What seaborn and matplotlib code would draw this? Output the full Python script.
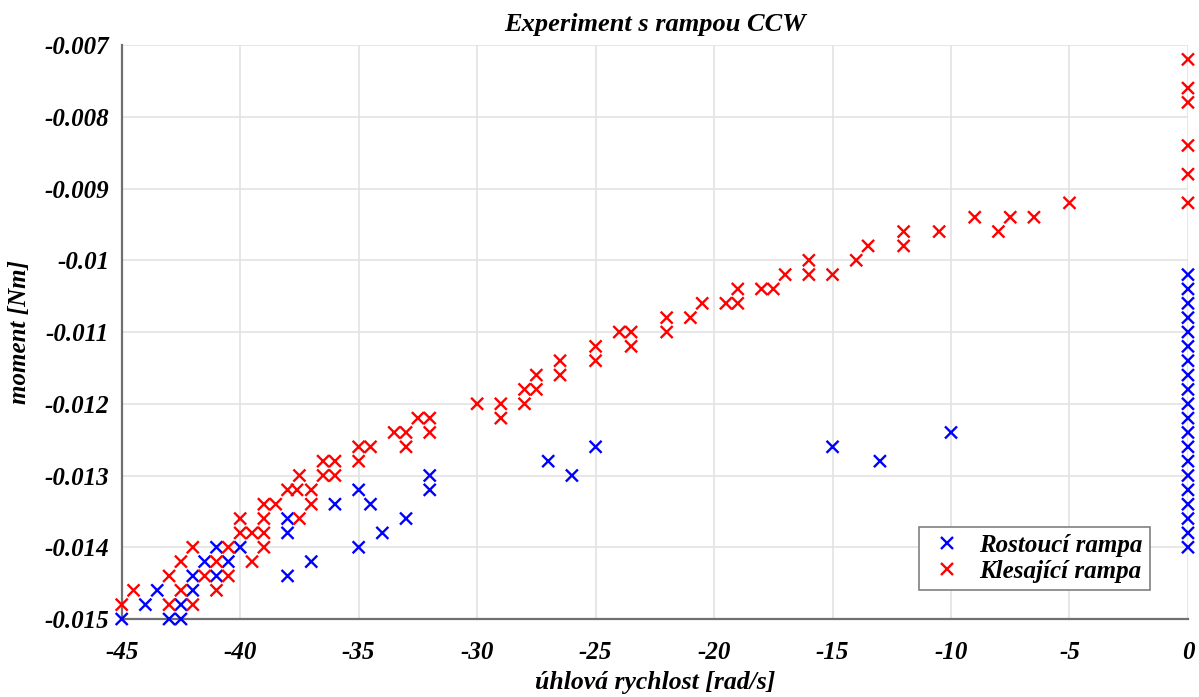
import numpy as np
import pandas as pd
import matplotlib
matplotlib.use("Agg")
import matplotlib.pyplot as plt
import seaborn as sns

# ---- data ----
rost_x = [-45, -43, -42.5, -44, -42.5, -43.5, -42, -42, -41, -38,
          -41.5, -40.5, -37, -41, -40, -35, -38, -34, -38, -33,
          -36, -34.5, -35, -32, -32, -26, -27, -13, -25, -15, -10]
rost_y = [-0.015, -0.015, -0.015, -0.0148, -0.0148, -0.0146, -0.0146, -0.0144, -0.0144, -0.0144,
          -0.0142, -0.0142, -0.0142, -0.014, -0.014, -0.014, -0.0138, -0.0138, -0.0136, -0.0136,
          -0.0134, -0.0134, -0.0132, -0.0132, -0.013, -0.013, -0.0128, -0.0128, -0.0126, -0.0126, -0.0124]
rost0_y = [-0.0102, -0.0104, -0.0106, -0.0108, -0.011, -0.0112, -0.0114, -0.0116, -0.0118, -0.012,
           -0.0122, -0.0124, -0.0126, -0.0128, -0.013, -0.0132, -0.0134, -0.0136, -0.0138, -0.014]
rost_x = rost_x + [0] * len(rost0_y)
rost_y = rost_y + rost0_y

kles_x = [-45, -43, -42, -44.5, -42.5, -41, -43, -41.5, -40.5,
          -42.5, -41, -39.5, -42, -40.5, -39, -40, -39.5, -39,
          -40, -39, -37.5, -39, -38.5, -37, -38, -37.6, -37,
          -37.5, -36.5, -36, -36.5, -36, -35, -35, -34.5, -33,
          -33.5, -33, -32, -32.5, -32, -29, -30, -29, -28,
          -28, -27.5, -27.5, -26.5, -26.5, -25, -25, -23.5,
          -24, -23.5, -22, -22, -21, -20.5, -19.5, -19,
          -19, -18, -17.5, -17, -16, -15, -16, -14,
          -13.5, -12, -12, -10.5, -8, -9, -7.5, -6.5, -5,
          0, 0, 0, 0, 0, 0]
kles_y = [-0.0148, -0.0148, -0.0148, -0.0146, -0.0146, -0.0146, -0.0144, -0.0144, -0.0144,
          -0.0142, -0.0142, -0.0142, -0.014, -0.014, -0.014, -0.0138, -0.0138, -0.0138,
          -0.0136, -0.0136, -0.0136, -0.0134, -0.0134, -0.0134, -0.0132, -0.0132, -0.0132,
          -0.013, -0.013, -0.013, -0.0128, -0.0128, -0.0128, -0.0126, -0.0126, -0.0126,
          -0.0124, -0.0124, -0.0124, -0.0122, -0.0122, -0.0122, -0.012, -0.012, -0.012,
          -0.0118, -0.0118, -0.0116, -0.0116, -0.0114, -0.0114, -0.0112, -0.0112,
          -0.011, -0.011, -0.011, -0.0108, -0.0108, -0.0106, -0.0106, -0.0106,
          -0.0104, -0.0104, -0.0104, -0.0102, -0.0102, -0.0102, -0.010, -0.010,
          -0.0098, -0.0098, -0.0096, -0.0096, -0.0096, -0.0094, -0.0094, -0.0094, -0.0092,
          -0.0072, -0.0076, -0.0078, -0.0084, -0.0088, -0.0092]

series_names = ["Rostoucí rampa", "Klesající rampa"]
series_colors = ["#0000ff", "#ff0000"]

x_ticks = [-45, -40, -35, -30, -25, -20, -15, -10, -5, 0]
y_ticks = [-0.015, -0.014, -0.013, -0.012, -0.011, -0.010, -0.009, -0.008, -0.007]
y_tick_labels = ["-0.015", "-0.014", "-0.013", "-0.012", "-0.011", "-0.01", "-0.009", "-0.008", "-0.007"]

title = "Experiment s rampou CCW"
xlabel = "úhlová rychlost [rad/s]"
ylabel = "moment [Nm]"

df = pd.DataFrame({
    "x": rost_x + kles_x,
    "y": rost_y + kles_y,
    "series": [series_names[0]] * len(rost_x) + [series_names[1]] * len(kles_x),
})

# ---- style ----
sns.set_style("white")
plt.rcParams["font.family"] = ["Liberation Serif", "DejaVu Serif"]
plt.rcParams["font.weight"] = "bold"
plt.rcParams["font.style"] = "italic"
plt.rcParams["text.color"] = "black"
plt.rcParams["axes.labelcolor"] = "black"

fig, ax = plt.subplots(figsize=(11.99, 6.97), dpi=100)
fig.subplots_adjust(left=0.1015, right=0.9908, top=0.9354, bottom=0.1119)

sns.scatterplot(data=df, x="x", y="y", hue="series",
                palette=dict(zip(series_names, series_colors)),
                marker="x", s=75, linewidth=1.7, ax=ax, zorder=3, legend=True,
                clip_on=False)

ax.set_xlim(-45, 0)
ax.set_ylim(-0.015, -0.007)
ax.set_xticks(x_ticks)
ax.set_xticklabels([str(v) for v in x_ticks])
ax.set_yticks(y_ticks)
ax.set_yticklabels(y_tick_labels)

ax.grid(True, color="#e3e3e3", linewidth=1.2)
ax.set_axisbelow(True)
for side in ["top", "right"]:
    ax.spines[side].set_visible(False)
for side in ["left", "bottom"]:
    ax.spines[side].set_color("#707070")
    ax.spines[side].set_linewidth(1.6)

ax.tick_params(axis="both", direction="in", length=6, width=1.2, color="#404040",
               labelsize=18, labelcolor="black")
ax.tick_params(axis="x", pad=16)
ax.tick_params(axis="y", pad=9)
for lbl in ax.get_xticklabels() + ax.get_yticklabels():
    lbl.set_fontweight("bold")
    lbl.set_fontstyle("italic")

ax.set_title(title, fontsize=19, fontweight="bold", fontstyle="italic", pad=10, color="black")
ax.set_xlabel(xlabel, fontsize=18.5, fontweight="bold", fontstyle="italic", labelpad=5, color="black")
ax.set_ylabel(ylabel, fontsize=18, fontweight="bold", fontstyle="italic", labelpad=10, color="black")

leg = ax.legend(loc="lower right", bbox_to_anchor=(0.9644, 0.0505), borderaxespad=0,
                frameon=True, fancybox=False, framealpha=1, edgecolor="#808080",
                prop={"size": 18, "weight": "bold", "style": "italic"},
                handletextpad=0.5, borderpad=0.3, labelspacing=0.1, handlelength=1.6)
leg.get_frame().set_linewidth(1.2)
for t in leg.get_texts():
    t.set_color("black")

fig.savefig("out.png", dpi=100)
